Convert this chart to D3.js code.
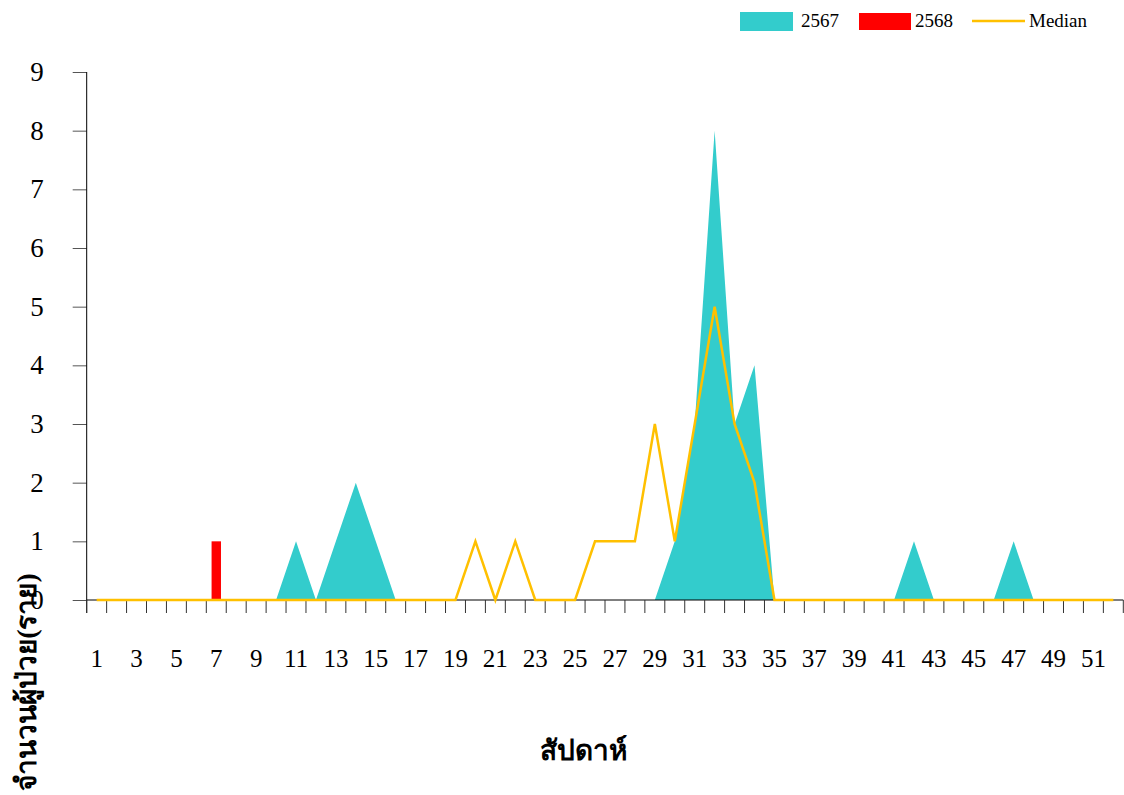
<!DOCTYPE html>
<html><head><meta charset="utf-8">
<script src="https://cdn.jsdelivr.net/npm/d3@7"></script>
<style>
body{margin:0;background:#fff;}
text{font-family:"Liberation Serif","Times New Roman",serif;}
</style></head>
<body><svg id="c" width="1124" height="795"></svg>
<script>
const weeks = d3.range(1, 53);
const cases2567 = [0,0,0,0,0,0,0,0,0,0,1,0,1,2,1,0,0,0,0,0,0,0,0,0,0,0,0,0,0,1,3,8,3,4,0,0,0,0,0,0,0,1,0,0,0,0,1,0,0,0,0,0];
const cases2568 = [0,0,0,0,0,0,1];
const median = [0,0,0,0,0,0,0,0,0,0,0,0,0,0,0,0,0,0,0,1,0,1,0,0,0,1,1,1,3,1,3,5,3,2,0,0,0,0,0,0,0,0,0,0,0,0,0,0,0,0,0,0];
const yTicks = [0,1,2,3,4,5,6,7,8,9];
const xTickLabels = weeks.filter(w => w % 2 === 1);
const seriesNames = ["2567","2568","Median"];
const colors = {"2567":"#33CCCC","2568":"#FF0000","Median":"#FFC000"};

const svg = d3.select("#c");
const L = 86.7, R = 1123.3, T = 72, B = 600;
const x = d3.scaleBand().domain(weeks).range([L, R]).padding(0);
const y = d3.scaleLinear().domain([0, 9]).range([B, T]);
const cx = w => x(w) + x.bandwidth() / 2;

// area 2567
svg.append("path")
  .datum(weeks.map((w, i) => ({w, v: cases2567[i]})))
  .attr("fill", colors["2567"])
  .attr("d", d3.area().x(d => cx(d.w)).y0(y(0)).y1(d => y(d.v)));

// bars 2568
svg.selectAll("rect.b68").data(cases2568.map((v, i) => ({w: weeks[i], v})).filter(d => d.v > 0))
  .enter().append("rect").attr("class", "b68")
  .attr("x", d => cx(d.w) - 4.7).attr("width", 9.4)
  .attr("y", d => y(d.v)).attr("height", d => y(0) - y(d.v))
  .attr("fill", colors["2568"]);

// axes
const yAxis = svg.append("g").attr("transform", `translate(${L},0)`)
  .call(d3.axisLeft(y).tickValues(yTicks).tickSize(14).tickPadding(29).tickFormat(d3.format("d")));
yAxis.select(".domain").remove();
yAxis.append("line").attr("x1", 0).attr("x2", 0).attr("y1", T).attr("y2", B + 13).attr("stroke", "#000");
yAxis.selectAll(".tick line").attr("stroke", "#555");
yAxis.selectAll("text").attr("font-size", 27).attr("fill", "#000").attr("font-family", "Liberation Serif");

const xAxis = svg.append("g").attr("transform", `translate(0,${B})`);
xAxis.append("line").attr("x1", L).attr("x2", R).attr("y1", 0).attr("y2", 0).attr("stroke", "#000");
const bounds = d3.range(0, 53).map(i => L + i * x.step());
xAxis.selectAll("line.t").data(bounds).enter().append("line").attr("class", "t")
  .attr("x1", d => d).attr("x2", d => d).attr("y1", 0).attr("y2", 13).attr("stroke", "#333");
xAxis.selectAll("text.l").data(xTickLabels).enter().append("text").attr("class", "l")
  .attr("x", d => cx(d)).attr("y", 67).attr("text-anchor", "middle")
  .attr("font-size", 25).text(d => d);

// median line
svg.append("path")
  .datum(weeks.map((w, i) => ({w, v: median[i]})))
  .attr("fill", "none").attr("stroke", colors["Median"]).attr("stroke-width", 2.5)
  .attr("d", d3.line().x(d => cx(d.w)).y(d => y(d.v)));

// axis titles
svg.append("text").attr("x", 583).attr("y", 760).attr("text-anchor", "middle")
  .attr("font-size", 28).attr("font-weight", "bold").text("สัปดาห์");
svg.append("text").attr("transform", "translate(36,682) rotate(-90)").attr("text-anchor", "middle")
  .attr("font-size", 28).attr("font-weight", "bold").text("จำนวนผู้ป่วย(ราย)");

// legend
const lg = svg.append("g");
lg.append("rect").attr("x", 740).attr("y", 12).attr("width", 53).attr("height", 19).attr("fill", colors["2567"]);
lg.append("text").attr("x", 801).attr("y", 27).attr("font-size", 19).text(seriesNames[0]);
lg.append("rect").attr("x", 859).attr("y", 13).attr("width", 52).attr("height", 17).attr("fill", colors["2568"]);
lg.append("text").attr("x", 915).attr("y", 27).attr("font-size", 19).text(seriesNames[1]);
lg.append("line").attr("x1", 972).attr("x2", 1025).attr("y1", 21).attr("y2", 21).attr("stroke", colors["Median"]).attr("stroke-width", 2.5);
lg.append("text").attr("x", 1029).attr("y", 27).attr("font-size", 19).text(seriesNames[2]);
</script></body></html>
